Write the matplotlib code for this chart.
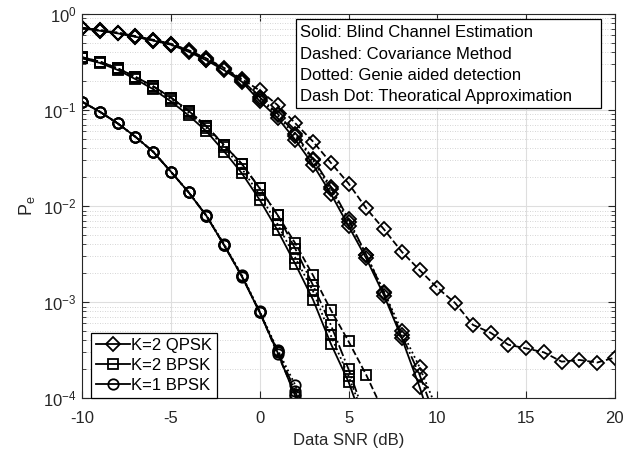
import matplotlib
matplotlib.use("Agg")
import matplotlib.pyplot as plt
from matplotlib.patches import Rectangle

plt.rcParams["font.family"] = ["Liberation Sans", "DejaVu Sans"]
plt.rcParams["mathtext.default"] = "regular"
plt.rcParams["axes.unicode_minus"] = False
plt.rcParams["font.size"] = 12

# ---- data ----
snr_short = list(range(-10, 11))
snr_long = list(range(-10, 21))
snr_b2 = list(range(-10, 7))
snr_b2_dash = list(range(-10, 8))
snr_b1 = list(range(-10, 4))

qpsk_solid = [0.71, 0.67, 0.63, 0.58, 0.53, 0.48, 0.405, 0.33, 0.26, 0.197, 0.124,
              0.083, 0.049, 0.027, 0.0135, 0.0062, 0.00285, 0.00117, 0.00042, 0.000131, 3.5e-5]
qpsk_dotted = [0.71, 0.67, 0.63, 0.58, 0.53, 0.48, 0.41, 0.335, 0.265, 0.20, 0.13,
               0.088, 0.054, 0.030, 0.0150, 0.0068, 0.0031, 0.00128, 0.00050, 0.00021, 7.5e-5]
qpsk_dashdot = [0.72, 0.68, 0.64, 0.59, 0.54, 0.49, 0.415, 0.34, 0.27, 0.205, 0.136,
                0.092, 0.057, 0.031, 0.0159, 0.0073, 0.0031, 0.00125, 0.00045, 0.000175, 5.5e-5]
qpsk_dashed = [0.72, 0.68, 0.64, 0.59, 0.54, 0.49, 0.42, 0.345, 0.275, 0.21, 0.16,
               0.113, 0.073, 0.047, 0.0283, 0.0172, 0.00946, 0.00572, 0.00334, 0.00216, 0.00141,
               0.00098, 0.00058, 0.00048, 0.00036, 0.00033, 0.0003, 0.00024, 0.00025, 0.000235, 0.000265]

bpsk2_solid = [0.345, 0.31, 0.262, 0.21, 0.165, 0.123, 0.088, 0.060, 0.037, 0.0219,
               0.0116, 0.0056, 0.0025, 0.00106, 0.00037, 0.000148, 4.5e-5]
bpsk2_dotted = [0.35, 0.315, 0.268, 0.217, 0.171, 0.13, 0.094, 0.065, 0.041, 0.0245,
                0.013, 0.0065, 0.0029, 0.0013, 0.00045, 0.00017, 5.5e-5]
bpsk2_dashdot = [0.355, 0.32, 0.272, 0.222, 0.177, 0.135, 0.098, 0.068, 0.043, 0.0274,
                 0.0153, 0.0081, 0.0036, 0.0015, 0.00058, 0.0002, 6e-5]
bpsk2_dashed = [0.355, 0.32, 0.272, 0.222, 0.177, 0.135, 0.098, 0.068, 0.043, 0.0274,
                0.0153, 0.0081, 0.0041, 0.0019, 0.00083, 0.00039, 0.000174, 7e-5]

bpsk1_solid = [0.122, 0.096, 0.0727, 0.0527, 0.0368, 0.0228, 0.0139, 0.0079, 0.0039,
               0.00184, 0.00078, 0.00030, 0.000105, 2.5e-5]
bpsk1_dotted = [0.122, 0.096, 0.0727, 0.0527, 0.0368, 0.0228, 0.0139, 0.0080, 0.0040,
                0.0019, 0.00080, 0.00032, 0.000137, 3.5e-5]
bpsk1_dashed = [0.122, 0.096, 0.0727, 0.0527, 0.0368, 0.0228, 0.0139, 0.0079, 0.0039,
                0.00185, 0.00079, 0.00029, 0.000110, 2.7e-5]
bpsk1_dashdot = [0.122, 0.096, 0.0727, 0.0527, 0.0368, 0.0228, 0.0139, 0.0079, 0.0039,
                 0.00186, 0.00078, 0.00031, 0.000120, 3e-5]

info_lines = ["Solid: Blind Channel Estimation",
              "Dashed: Covariance Method",
              "Dotted: Genie aided detection",
              "Dash Dot: Theoratical Approximation"]
legend_labels = ["K=2 QPSK", "K=2 BPSK", "K=1 BPSK"]

fig = plt.figure(figsize=(6.32, 4.54), dpi=100)
ax = fig.add_axes([0.130, 0.123, 0.843, 0.846])

lw = 1.3
common = dict(color="black", lw=lw, mfc="none", mew=lw)

# QPSK K=2 (diamonds)
dq = dict(marker="D", ms=7.5, **common)
ax.semilogy(snr_short, qpsk_dotted, ls=":", **dq)
ax.semilogy(snr_short, qpsk_dashdot, ls="-.", **dq)
ax.semilogy(snr_long, qpsk_dashed, ls="--", **dq)
h1, = ax.semilogy(snr_short, qpsk_solid, ls="-", **dq)

# BPSK K=2 (squares)
ds = dict(marker="s", ms=6.5, **common)
ax.semilogy(snr_b2, bpsk2_dotted, ls=":", **ds)
ax.semilogy(snr_b2, bpsk2_dashdot, ls="-.", **ds)
ax.semilogy(snr_b2_dash, bpsk2_dashed, ls="--", **ds)
h2, = ax.semilogy(snr_b2, bpsk2_solid, ls="-", **ds)

# BPSK K=1 (circles)
dc = dict(marker="o", ms=7.5, **common)
ax.semilogy(snr_b1, bpsk1_dotted, ls=":", **dc)
ax.semilogy(snr_b1, bpsk1_dashdot, ls="-.", **dc)
ax.semilogy(snr_b1, bpsk1_dashed, ls="--", **dc)
h3, = ax.semilogy(snr_b1, bpsk1_solid, ls="-", **dc)

ax.set_xlim(-10, 20)
ax.set_ylim(1e-4, 1)
ax.set_xticks([-10, -5, 0, 5, 10, 15, 20])

ax.grid(True, which="major", color="#dedede", lw=0.8, ls="-")
ax.grid(True, which="minor", axis="y", color="#c8c8c8", lw=0.6, ls=(0, (1, 2)))
ax.set_axisbelow(True)

for s in ax.spines.values():
    s.set_color("#262626")
    s.set_linewidth(0.8)
ax.tick_params(which="both", direction="in", top=True, right=True, colors="#262626",
               labelcolor="#262626", labelsize=12)
ax.tick_params(which="major", length=5)
ax.tick_params(which="minor", length=3)
ax.tick_params(axis="x", which="major", pad=9)
ax.tick_params(axis="y", which="major", pad=4)

ax.set_xlabel("Data SNR (dB)", fontsize=12, color="#262626", labelpad=5)
ax.set_ylabel("P$_e$", fontsize=13, color="#262626", labelpad=4)

# annotation box (frame + four lines)
ax.add_patch(Rectangle((0.4015, 0.755), 0.5722, 0.232, transform=ax.transAxes,
                       fc="white", ec="black", lw=0.9, zorder=5))
line_y = [0.952, 0.895, 0.840, 0.786]
for txt, yy in zip(info_lines, line_y):
    ax.text(0.409, yy, txt, transform=ax.transAxes, ha="left", va="center",
            fontsize=12, color="black", zorder=6)

leg = ax.legend([h1, h2, h3], legend_labels, loc="lower left", bbox_to_anchor=(0.017, 0.0),
                borderaxespad=0, fancybox=False, framealpha=1, edgecolor="black",
                fontsize=12, handlelength=2.0, handletextpad=0.1, borderpad=0.3,
                labelspacing=0.3)
leg.get_frame().set_linewidth(0.9)

fig.savefig("out.png", dpi=100)
